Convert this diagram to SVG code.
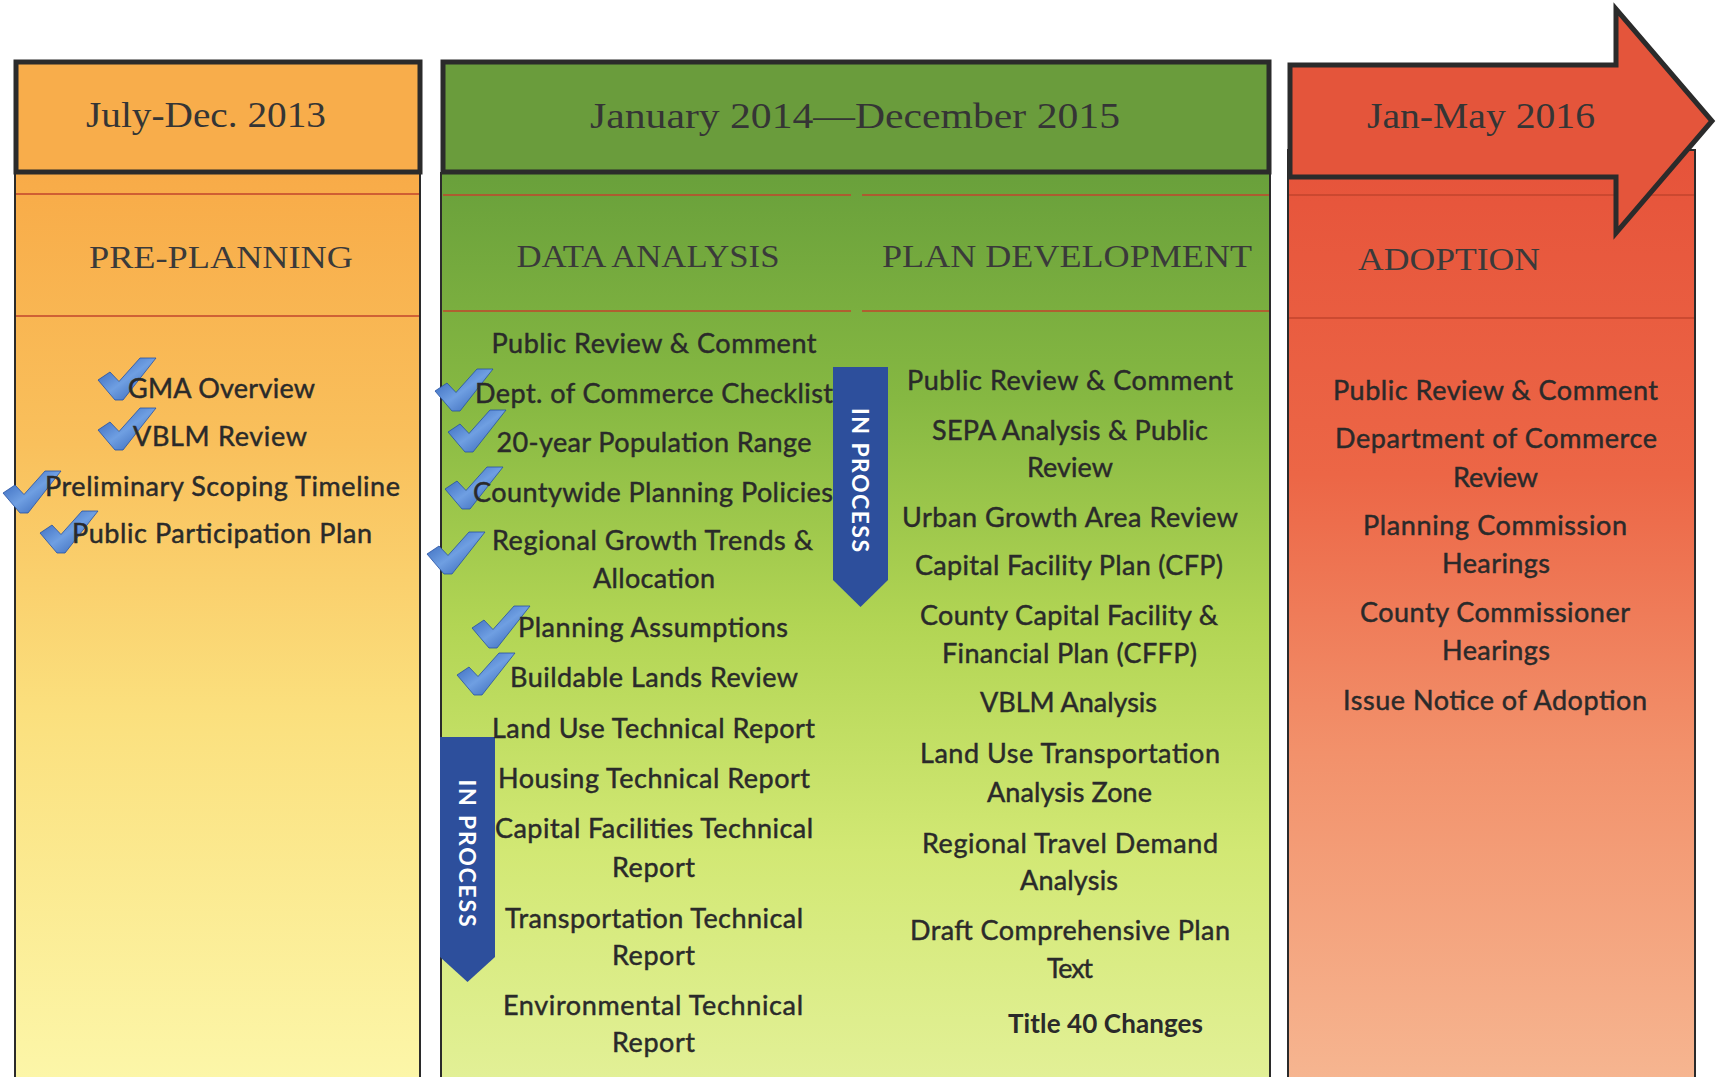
<svg xmlns="http://www.w3.org/2000/svg" xmlns:xlink="http://www.w3.org/1999/xlink" width="1716" height="1077" viewBox="0 0 1716 1077">
<style>
.hd{font-family:"Liberation Serif",serif;font-size:36px;fill:#353535;text-anchor:middle}
.sec{font-family:"Liberation Serif",serif;font-size:32px;fill:#3a3a3a;text-anchor:middle}
.t{font-family:Lato,"Liberation Sans",sans-serif;font-size:27px;fill:#2a2a2a;stroke:#2a2a2a;stroke-width:0.45px;text-anchor:middle}
.tb{font-family:Lato,"Liberation Sans",sans-serif;font-size:26px;font-weight:bold;fill:#2a2a2a;text-anchor:middle}
.ip{font-family:Lato,"Liberation Sans",sans-serif;font-size:23px;font-weight:bold;fill:#ffffff;text-anchor:middle}
.box{stroke:#2b2b2b;stroke-width:5}
.body{stroke:#2b2b2b;stroke-width:2}
.rl{stroke:#c2452c;stroke-width:1.6}
.ban{fill:#2d4f9c}
</style>
<defs>
<linearGradient id="gO" gradientUnits="userSpaceOnUse" x1="0" y1="173" x2="0" y2="1077">
<stop offset="0" stop-color="#f8ab48"/><stop offset="0.3" stop-color="#f9c05c"/><stop offset="0.6" stop-color="#fbe07e"/><stop offset="1" stop-color="#fcf6a8"/>
</linearGradient>
<linearGradient id="gG" gradientUnits="userSpaceOnUse" x1="0" y1="173" x2="0" y2="1077">
<stop offset="0" stop-color="#69a03b"/><stop offset="0.25" stop-color="#86b842"/><stop offset="0.5" stop-color="#b2d554"/><stop offset="0.75" stop-color="#d2e874"/><stop offset="1" stop-color="#e2f096"/>
</linearGradient>
<linearGradient id="gR" gradientUnits="userSpaceOnUse" x1="0" y1="150" x2="0" y2="1077">
<stop offset="0" stop-color="#e6533a"/><stop offset="0.35" stop-color="#ec6646"/><stop offset="0.65" stop-color="#f2916b"/><stop offset="1" stop-color="#f6b590"/>
</linearGradient>
<linearGradient id="gC" x1="0" y1="0" x2="1" y2="1">
<stop offset="0" stop-color="#2b5cb4"/><stop offset="0.5" stop-color="#6f9fe2"/><stop offset="1" stop-color="#2756ac"/>
</linearGradient>
<path id="chk" d="M0,22 L12,14 L21,23.5 L42,0 L58,0 L25,42 L17,42 Z" fill="url(#gC)" stroke="#2652a3" stroke-width="0.8" stroke-linejoin="round"/>
</defs>
<rect x="0" y="0" width="1716" height="1077" fill="#ffffff"/>

<g id="col-preplanning">
<rect class="body" x="15" y="173" width="405" height="920" fill="url(#gO)"/>
<line class="rl" x1="16" y1="194" x2="419" y2="194"/>
<line class="rl" x1="16" y1="316" x2="419" y2="316"/>
<rect class="box" x="16" y="62" width="404" height="110" fill="#f8ad4b"/>
<text class="hd" x="206" y="127" textLength="240" lengthAdjust="spacingAndGlyphs">July-Dec. 2013</text>
<text class="sec" x="221" y="268" textLength="264" lengthAdjust="spacingAndGlyphs">PRE-PLANNING</text>
</g>

<g id="col-green">
<rect class="body" x="441" y="173" width="829" height="920" fill="url(#gG)"/>
<line class="rl" x1="443" y1="195" x2="851" y2="195"/>
<line class="rl" x1="862" y1="195" x2="1269" y2="195"/>
<line class="rl" x1="443" y1="311" x2="851" y2="311"/>
<line class="rl" x1="862" y1="311" x2="1269" y2="311"/>
<rect class="box" x="443" y="62" width="826" height="110" fill="#6a9c3c"/>
<text class="hd" x="855" y="128" textLength="530" lengthAdjust="spacingAndGlyphs">January 2014—December 2015</text>
<text class="sec" x="648" y="267" textLength="263" lengthAdjust="spacingAndGlyphs">DATA ANALYSIS</text>
<text class="sec" x="1067" y="267" textLength="370" lengthAdjust="spacingAndGlyphs">PLAN DEVELOPMENT</text>
</g>

<g id="col-adoption">
<rect class="body" x="1288" y="150" width="407" height="940" fill="url(#gR)"/>
<line class="rl" x1="1289" y1="195" x2="1694" y2="195"/>
<line class="rl" x1="1289" y1="318" x2="1694" y2="318"/>
<path class="box" d="M1290,65 L1616,65 L1616,9 L1712,121 L1616,233 L1616,177 L1290,177 Z" fill="#e4553b" stroke-linejoin="miter"/>
<text class="hd" x="1481" y="128" textLength="228" lengthAdjust="spacingAndGlyphs">Jan-May 2016</text>
<text class="sec" x="1449" y="270" textLength="182" lengthAdjust="spacingAndGlyphs">ADOPTION</text>
</g>

<g id="banner-1"><path class="ban" d="M833,367 L888,367 L888,580 L860.5,607 L833,580 Z"/><text class="ip" transform="translate(852,480) rotate(90)" textLength="144">IN PROCESS</text></g>
<g id="banner-2"><path class="ban" d="M440,737 L495,737 L495,957 L467.5,982 L440,957 Z"/><text class="ip" transform="translate(459,853) rotate(90)" textLength="147">IN PROCESS</text></g>

<g id="pre-items">
<g id="gma"><use xlink:href="#chk" x="98" y="358"/><text class="t" x="221.5" y="398" textLength="187">GMA Overview</text></g>
<g id="vblm-review"><use xlink:href="#chk" x="98" y="408"/><text class="t" x="220" y="446" textLength="174">VBLM Review</text></g>
<g id="scoping"><use xlink:href="#chk" x="3" y="471"/><text class="t" x="222.5" y="496" textLength="355">Preliminary Scoping Timeline</text></g>
<g id="participation"><use xlink:href="#chk" x="40" y="511"/><text class="t" x="222" y="543" textLength="300">Public Participation Plan</text></g>
</g>

<g id="da-items">
<g id="da-public"><text class="t" x="654" y="353" textLength="325">Public Review &amp; Comment</text></g>
<g id="da-commerce"><use xlink:href="#chk" x="435" y="369"/><text class="t" x="654" y="403" textLength="358">Dept. of Commerce Checklist</text></g>
<g id="da-population"><use xlink:href="#chk" x="448" y="410"/><text class="t" x="654" y="452" textLength="315">20-year Population Range</text></g>
<g id="da-cpp"><use xlink:href="#chk" x="445" y="467"/><text class="t" x="653" y="502" textLength="360">Countywide Planning Policies</text></g>
<g id="da-growth"><use xlink:href="#chk" x="427" y="532"/><text class="t" x="652.5" y="550" textLength="321">Regional Growth Trends &amp;</text><text class="t" x="654" y="588" textLength="122">Allocation</text></g>
<g id="da-assumptions"><use xlink:href="#chk" x="472" y="606"/><text class="t" x="653" y="637" textLength="270">Planning Assumptions</text></g>
<g id="da-buildable"><use xlink:href="#chk" x="457" y="653"/><text class="t" x="654" y="687" textLength="288">Buildable Lands Review</text></g>
<g id="da-landuse"><text class="t" x="653.5" y="738" textLength="323">Land Use Technical Report</text></g>
<g id="da-housing"><text class="t" x="654" y="788" textLength="312">Housing Technical Report</text></g>
<g id="da-capital"><text class="t" x="654" y="838" textLength="318">Capital Facilities Technical</text><text class="t" x="653.5" y="877" textLength="83">Report</text></g>
<g id="da-transport"><text class="t" x="654" y="928" textLength="298">Transportation Technical</text><text class="t" x="653.5" y="965" textLength="83">Report</text></g>
<g id="da-environment"><text class="t" x="653" y="1015" textLength="300">Environmental Technical</text><text class="t" x="653.5" y="1052" textLength="83">Report</text></g>
</g>

<g id="pd-items">
<g id="pd-public"><text class="t" x="1070" y="390" textLength="326">Public Review &amp; Comment</text></g>
<g id="pd-sepa"><text class="t" x="1070" y="440" textLength="276">SEPA Analysis &amp; Public</text><text class="t" x="1070" y="477" textLength="86">Review</text></g>
<g id="pd-uga"><text class="t" x="1070" y="527" textLength="336">Urban Growth Area Review</text></g>
<g id="pd-cfp"><text class="t" x="1069" y="575" textLength="308">Capital Facility Plan (CFP)</text></g>
<g id="pd-cffp"><text class="t" x="1069" y="625" textLength="298">County Capital Facility &amp;</text><text class="t" x="1069.5" y="663" textLength="255">Financial Plan (CFFP)</text></g>
<g id="pd-vblm"><text class="t" x="1068.5" y="712" textLength="177">VBLM Analysis</text></g>
<g id="pd-taz"><text class="t" x="1070" y="763" textLength="300">Land Use Transportation</text><text class="t" x="1069.5" y="802" textLength="165">Analysis Zone</text></g>
<g id="pd-travel"><text class="t" x="1070" y="853" textLength="296">Regional Travel Demand</text><text class="t" x="1069" y="890" textLength="98">Analysis</text></g>
<g id="pd-draft"><text class="t" x="1070" y="940" textLength="320">Draft Comprehensive Plan</text><text class="t" x="1070" y="978" textLength="46">Text</text></g>
<g id="pd-title40"><text class="tb" x="1105.5" y="1033" textLength="195">Title 40 Changes</text></g>
</g>

<g id="ad-items">
<g id="ad-public"><text class="t" x="1495.5" y="400" textLength="325">Public Review &amp; Comment</text></g>
<g id="ad-commerce"><text class="t" x="1496" y="448" textLength="322">Department of Commerce</text><text class="t" x="1495.5" y="487" textLength="85">Review</text></g>
<g id="ad-pc"><text class="t" x="1495" y="535" textLength="264">Planning Commission</text><text class="t" x="1496" y="573" textLength="108">Hearings</text></g>
<g id="ad-cc"><text class="t" x="1495" y="622" textLength="270">County Commissioner</text><text class="t" x="1496" y="660" textLength="108">Hearings</text></g>
<g id="ad-notice"><text class="t" x="1495" y="710" textLength="304">Issue Notice of Adoption</text></g>
</g>

<g id="connectors"/>
</svg>
